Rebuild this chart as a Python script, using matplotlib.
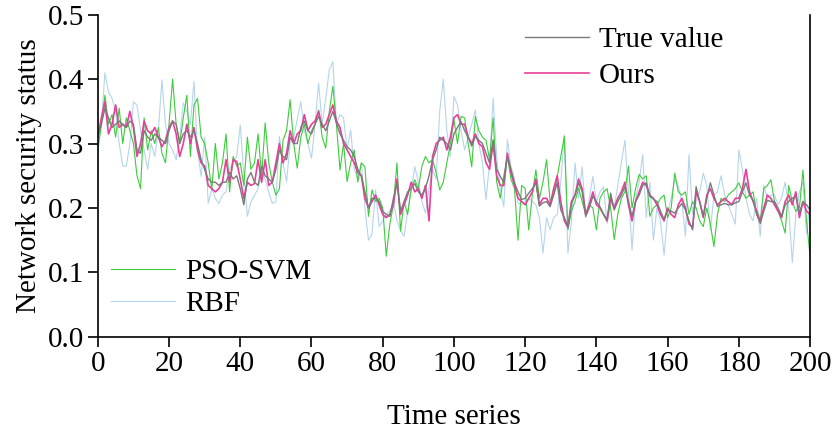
import matplotlib
matplotlib.use("Agg")
import matplotlib.pyplot as plt

plt.rcParams['font.family'] = ['Liberation Serif', 'DejaVu Serif']

# time index 0..200
time_idx = list(range(201))

# True value (gray)
true_value = [
    0.31, 0.33, 0.355, 0.34, 0.325, 0.33, 0.335, 0.33, 0.325, 0.335,
    0.33, 0.29, 0.285, 0.32, 0.31, 0.305, 0.315, 0.31, 0.305, 0.30,
    0.32, 0.335, 0.33, 0.30, 0.315, 0.32, 0.31, 0.32, 0.30, 0.275,
    0.26, 0.245, 0.24, 0.24, 0.235, 0.24, 0.24, 0.255, 0.245, 0.25,
    0.23, 0.205, 0.245, 0.255, 0.24, 0.235, 0.265, 0.25, 0.245, 0.24,
    0.26, 0.29, 0.28, 0.275, 0.31, 0.30, 0.30, 0.325, 0.335, 0.32,
    0.315, 0.33, 0.342, 0.33, 0.32, 0.335, 0.35, 0.332, 0.315, 0.305,
    0.295, 0.29, 0.28, 0.26, 0.25, 0.225, 0.20, 0.215, 0.215, 0.21,
    0.195, 0.19, 0.187, 0.215, 0.238, 0.195, 0.21, 0.225, 0.23, 0.238,
    0.225, 0.22, 0.23, 0.25, 0.275, 0.29, 0.31, 0.305, 0.30, 0.29,
    0.315, 0.325, 0.334, 0.32, 0.31, 0.296, 0.311, 0.305, 0.30, 0.285,
    0.27, 0.306, 0.26, 0.249, 0.24, 0.28, 0.26, 0.239, 0.225, 0.213,
    0.215, 0.223, 0.23, 0.239, 0.203, 0.208, 0.21, 0.202, 0.22, 0.239,
    0.197, 0.185, 0.171, 0.207, 0.22, 0.239, 0.226, 0.187, 0.20, 0.218,
    0.21, 0.202, 0.19, 0.182, 0.223, 0.197, 0.21, 0.22, 0.233, 0.21,
    0.187, 0.21, 0.22, 0.235, 0.239, 0.218, 0.214, 0.21, 0.195, 0.182,
    0.197, 0.195, 0.192, 0.20, 0.207, 0.197, 0.18, 0.166, 0.233, 0.21,
    0.187, 0.215, 0.239, 0.22, 0.202, 0.205, 0.207, 0.205, 0.205, 0.208,
    0.21, 0.225, 0.239, 0.22, 0.212, 0.19, 0.176, 0.195, 0.212, 0.21,
    0.21, 0.20, 0.187, 0.205, 0.21, 0.215, 0.218, 0.192, 0.21, 0.205,
    0.197,
]

# Ours (magenta)
ours = [
    0.31, 0.34, 0.365, 0.315, 0.33, 0.36, 0.325, 0.33, 0.325, 0.35,
    0.325, 0.28, 0.30, 0.335, 0.32, 0.315, 0.325, 0.31, 0.295, 0.305,
    0.325, 0.335, 0.315, 0.28, 0.30, 0.33, 0.30, 0.325, 0.29, 0.27,
    0.265, 0.235, 0.23, 0.225, 0.23, 0.24, 0.275, 0.24, 0.275, 0.272,
    0.245, 0.215, 0.24, 0.235, 0.238, 0.275, 0.24, 0.275, 0.235, 0.24,
    0.27, 0.30, 0.27, 0.285, 0.32, 0.30, 0.315, 0.32, 0.345, 0.32,
    0.33, 0.335, 0.35, 0.325, 0.33, 0.345, 0.36, 0.335, 0.325, 0.30,
    0.29, 0.28, 0.27, 0.255, 0.25, 0.215, 0.20, 0.21, 0.22, 0.205,
    0.19, 0.185, 0.19, 0.205, 0.245, 0.19, 0.205, 0.22, 0.24, 0.225,
    0.23, 0.215, 0.235, 0.18, 0.28, 0.30, 0.305, 0.31, 0.29, 0.31,
    0.34, 0.345, 0.33, 0.33, 0.31, 0.30, 0.315, 0.30, 0.295, 0.27,
    0.26, 0.30, 0.25, 0.235, 0.235, 0.285, 0.255, 0.235, 0.215, 0.21,
    0.205, 0.215, 0.225, 0.245, 0.205, 0.215, 0.215, 0.205, 0.23, 0.25,
    0.21, 0.18, 0.17, 0.21, 0.22, 0.245, 0.23, 0.19, 0.205, 0.225,
    0.205, 0.20, 0.19, 0.18, 0.215, 0.20, 0.215, 0.225, 0.24, 0.205,
    0.18, 0.21, 0.225, 0.24, 0.235, 0.22, 0.215, 0.205, 0.19, 0.18,
    0.20, 0.19, 0.185, 0.205, 0.215, 0.20, 0.175, 0.17, 0.225, 0.21,
    0.185, 0.22, 0.23, 0.215, 0.205, 0.21, 0.215, 0.21, 0.205, 0.215,
    0.215, 0.23, 0.26, 0.225, 0.21, 0.195, 0.18, 0.20, 0.22, 0.215,
    0.205, 0.195, 0.185, 0.21, 0.22, 0.205, 0.225, 0.185, 0.21, 0.195,
    0.19,
]

# PSO-SVM (green)
pso_svm = [
    0.29, 0.33, 0.375, 0.33, 0.345, 0.31, 0.355, 0.30, 0.34, 0.32,
    0.30, 0.25, 0.23, 0.34, 0.29, 0.32, 0.30, 0.325, 0.285, 0.27,
    0.33, 0.40, 0.33, 0.30, 0.34, 0.375, 0.28, 0.36, 0.37, 0.31,
    0.30, 0.27, 0.228, 0.30, 0.245, 0.27, 0.315, 0.225, 0.28, 0.265,
    0.27, 0.235, 0.31, 0.26, 0.27, 0.315, 0.25, 0.332, 0.27, 0.24,
    0.22, 0.23, 0.305, 0.32, 0.368, 0.30, 0.262, 0.31, 0.33, 0.30,
    0.32, 0.33, 0.352, 0.31, 0.293, 0.35, 0.389, 0.33, 0.259, 0.30,
    0.241, 0.27, 0.29, 0.24, 0.27, 0.264, 0.187, 0.228, 0.21, 0.215,
    0.20, 0.125, 0.175, 0.205, 0.27, 0.164, 0.21, 0.19, 0.23, 0.244,
    0.23, 0.265, 0.28, 0.27, 0.275, 0.255, 0.228, 0.24, 0.27, 0.30,
    0.337, 0.30, 0.342, 0.34, 0.30, 0.264, 0.342, 0.32, 0.31, 0.305,
    0.275, 0.34, 0.24, 0.215, 0.25, 0.28, 0.245, 0.23, 0.15, 0.235,
    0.23, 0.166, 0.22, 0.259, 0.215, 0.24, 0.275, 0.21, 0.22, 0.249,
    0.28, 0.311, 0.166, 0.195, 0.21, 0.231, 0.21, 0.19, 0.205, 0.20,
    0.166, 0.215, 0.225, 0.23, 0.20, 0.151, 0.19, 0.215, 0.225, 0.265,
    0.20, 0.23, 0.252, 0.245, 0.25, 0.187, 0.20, 0.205, 0.215, 0.22,
    0.185, 0.20, 0.254, 0.225, 0.22, 0.225, 0.19, 0.21, 0.20, 0.18,
    0.171, 0.20, 0.175, 0.14, 0.19, 0.215, 0.21, 0.22, 0.225, 0.23,
    0.239, 0.225, 0.215, 0.22, 0.225, 0.19, 0.18, 0.23, 0.235, 0.244,
    0.21, 0.195, 0.18, 0.161, 0.235, 0.21, 0.195, 0.20, 0.259, 0.18,
    0.125,
]

# RBF (light blue)
rbf = [
    0.29, 0.33, 0.41, 0.38, 0.37, 0.35, 0.30, 0.265, 0.265, 0.30,
    0.365, 0.36, 0.32, 0.29, 0.26, 0.30, 0.28, 0.32, 0.399, 0.33,
    0.30, 0.29, 0.275, 0.31, 0.363, 0.35, 0.33, 0.396, 0.29, 0.249,
    0.31, 0.207, 0.23, 0.215, 0.207, 0.22, 0.225, 0.26, 0.27, 0.28,
    0.329, 0.25, 0.187, 0.21, 0.22, 0.23, 0.255, 0.245, 0.225, 0.207,
    0.21, 0.311, 0.27, 0.241, 0.30, 0.31, 0.337, 0.365, 0.32, 0.30,
    0.277, 0.33, 0.394, 0.33, 0.37, 0.415, 0.427, 0.33, 0.345, 0.34,
    0.29, 0.321, 0.26, 0.245, 0.27, 0.20, 0.15, 0.16, 0.228, 0.171,
    0.18, 0.19, 0.195, 0.21, 0.18, 0.165, 0.156, 0.195, 0.228, 0.264,
    0.24, 0.21, 0.192, 0.23, 0.26, 0.245, 0.35, 0.40, 0.32, 0.28,
    0.373, 0.36, 0.32, 0.29, 0.31, 0.33, 0.352, 0.30, 0.27, 0.213,
    0.27, 0.37, 0.28, 0.23, 0.202, 0.306, 0.265, 0.245, 0.208, 0.205,
    0.21, 0.215, 0.21, 0.205, 0.185, 0.13, 0.185, 0.166, 0.185, 0.19,
    0.24, 0.314, 0.13, 0.18, 0.27, 0.215, 0.264, 0.185, 0.215, 0.249,
    0.21, 0.225, 0.233, 0.176, 0.21, 0.20, 0.235, 0.27, 0.305, 0.225,
    0.135, 0.215, 0.24, 0.283, 0.185, 0.24, 0.15, 0.20, 0.18, 0.127,
    0.19, 0.215, 0.245, 0.235, 0.21, 0.156, 0.283, 0.19, 0.21, 0.225,
    0.254, 0.235, 0.165, 0.22, 0.225, 0.25, 0.22, 0.205, 0.19, 0.175,
    0.29, 0.26, 0.215, 0.19, 0.18, 0.215, 0.156, 0.235, 0.215, 0.22,
    0.22, 0.205, 0.215, 0.24, 0.20, 0.115, 0.19, 0.225, 0.24, 0.16,
    0.21,
]

fig = plt.figure(figsize=(8.36, 4.34), dpi=100)
ax = fig.add_axes([0.117, 0.224, 0.852, 0.742])

l_rbf, = ax.plot(time_idx, rbf, color='#b5d5ea', lw=0.8, label='RBF')
l_pso, = ax.plot(time_idx, pso_svm, color='#3ccc3c', lw=0.8, label='PSO-SVM')
l_ours, = ax.plot(time_idx, ours, color='#e6409a', lw=1.2, label='Ours')
l_true, = ax.plot(time_idx, true_value, color='#7a7a7a', lw=1.0, label='True value')

ax.set_xlim(0, 200)
ax.set_ylim(0, 0.5)
ax.set_xticks(range(0, 201, 20))
ax.set_yticks([0.0, 0.1, 0.2, 0.3, 0.4, 0.5])
ax.set_yticklabels(['0.0', '0.1', '0.2', '0.3', '0.4', '0.5'])
ax.tick_params(direction='out', length=7, width=1.2, labelsize=21, right=False, top=False, pad=3)

ax.spines['top'].set_visible(False)
for s in ['left', 'bottom', 'right']:
    ax.spines[s].set_linewidth(1.2)

ax.set_xlabel('Time series', fontsize=21, labelpad=20)
ax.set_ylabel('Network security status', fontsize=21, labelpad=4)

leg1 = ax.legend(handles=[l_true, l_ours], loc='upper left', bbox_to_anchor=(0.583, 1.0),
                 frameon=False, fontsize=21, handlelength=2.2, handletextpad=0.35,
                 labelspacing=0.33, borderaxespad=0)
ax.add_artist(leg1)
ax.legend(handles=[l_pso, l_rbf], loc='lower left', bbox_to_anchor=(0.002, 0.025),
          frameon=False, fontsize=21, handlelength=2.2, handletextpad=0.35,
          labelspacing=0.18, borderaxespad=0)

fig.savefig('out.png', dpi=100)
